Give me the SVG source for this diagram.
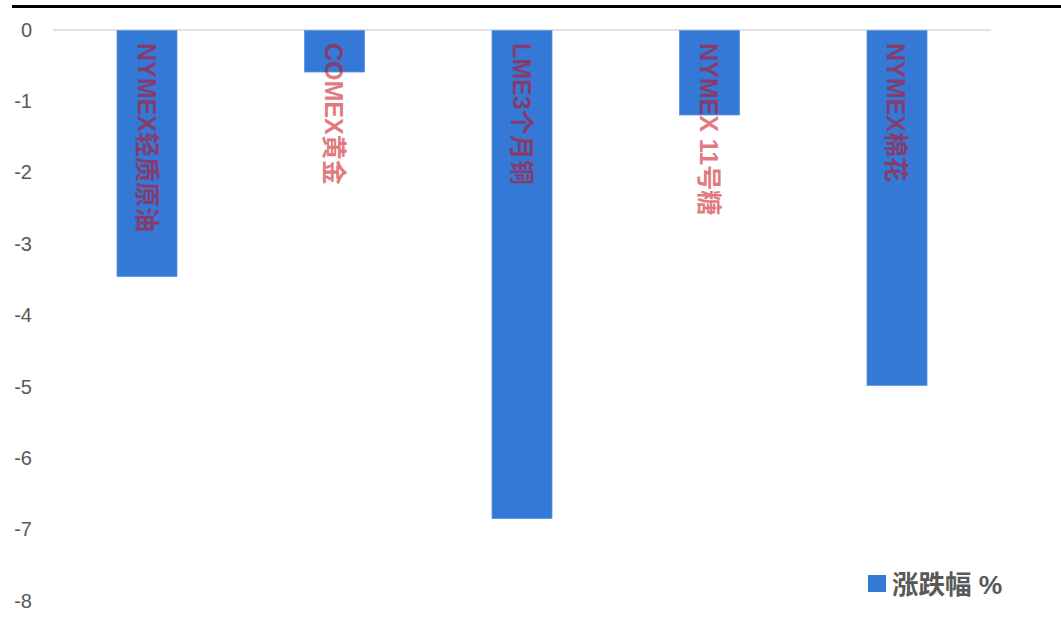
<svg xmlns="http://www.w3.org/2000/svg" width="1061" height="638" viewBox="0 0 1061 638">
<style>
.ax{font-family:"Liberation Sans","Noto Sans CJK SC",sans-serif;font-size:20px;fill:#595959;text-anchor:end;dominant-baseline:central}
.bar{fill:#3479d6;stroke:#5b93e0;stroke-width:0.8}
.lblg{opacity:0.54}
.lbl{font-family:"Liberation Sans","Noto Sans CJK SC",sans-serif;font-size:25px;font-weight:bold;fill:#c80a14}
.leg{font-family:"Liberation Sans","Noto Sans CJK SC",sans-serif;font-size:26.5px;font-weight:bold;fill:#595959}
</style>
<rect width="1061" height="638" fill="#ffffff"/>
<line x1="12" y1="6.5" x2="1061" y2="6.5" stroke="#000" stroke-width="3"/>
<g id="axis">
<line x1="53" y1="30" x2="991" y2="30" stroke="#d9d9d9" stroke-width="1.5"/>
<text class="ax" x="32" y="30">0</text>
<text class="ax" x="32" y="101">-1</text>
<text class="ax" x="32" y="172">-2</text>
<text class="ax" x="32" y="244">-3</text>
<text class="ax" x="32" y="315">-4</text>
<text class="ax" x="32" y="387">-5</text>
<text class="ax" x="32" y="458">-6</text>
<text class="ax" x="32" y="529">-7</text>
<text class="ax" x="32" y="601">-8</text>
</g>
<g id="bar1">
<rect class="bar" x="117" y="30.5" width="60" height="246"/>
<g class="lblg"><text class="lbl" transform="translate(137.5,43) rotate(90)">NYMEX轻质原油</text></g>
</g>
<g id="bar2">
<rect class="bar" x="304.5" y="30.5" width="60" height="41.5"/>
<g class="lblg"><text class="lbl" transform="translate(324.5,43) rotate(90)">COMEX黄金</text></g>
</g>
<g id="bar3">
<rect class="bar" x="492" y="30.5" width="60" height="488"/>
<g class="lblg"><text class="lbl" transform="translate(512.5,43) rotate(90)">LME3个月铜</text></g>
</g>
<g id="bar4">
<rect class="bar" x="679.5" y="30.5" width="60" height="84.5"/>
<g class="lblg"><text class="lbl" transform="translate(699.5,43) rotate(90)">NYMEX 11号糖</text></g>
</g>
<g id="bar5">
<rect class="bar" x="867" y="30.5" width="60" height="355"/>
<g class="lblg"><text class="lbl" transform="translate(886.5,43) rotate(90)">NYMEX棉花</text></g>
</g>
<g id="legend">
<rect x="868" y="575" width="18" height="17" fill="#3479d6"/>
<text class="leg" x="892" y="594">涨跌幅 %</text>
</g>
<g id="connectors"></g>
</svg>
